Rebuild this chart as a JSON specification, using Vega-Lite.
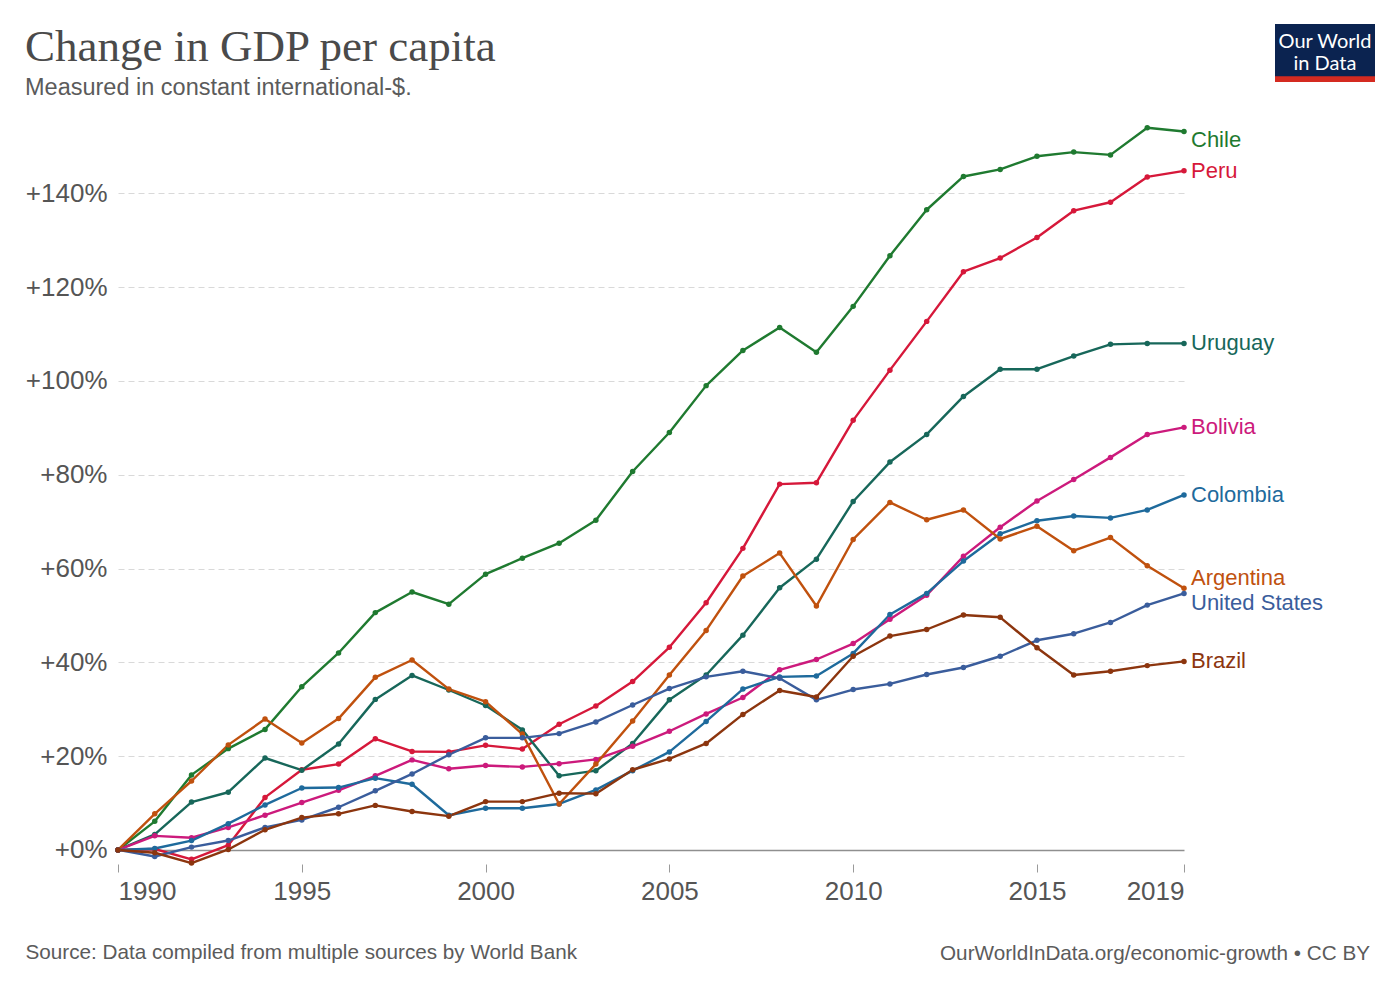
{
"$schema": "https://vega.github.io/schema/vega-lite/v6.json",
"background": "white",
"padding": {"left": 25, "top": 24, "right": 25, "bottom": 10},
"spacing": -6,
"align": "none",
"title": {"text": "OurWorldInData.org/economic-growth • CC BY", "orient": "bottom", "anchor": "end", "frame": "bounds", "offset": -18, "dx": -5, "font": "Liberation Sans", "fontSize": 20.7, "fontWeight": "normal", "color": "#5b5b5b"},
"config": {"view": {"stroke": null}},
"datasets": {
"gdp": [
{"country":"Chile","year":1990,"change":0},{"country":"Chile","year":1991,"change":6.1},{"country":"Chile","year":1992,"change":16.0},{"country":"Chile","year":1993,"change":21.6},{"country":"Chile","year":1994,"change":25.7},{"country":"Chile","year":1995,"change":34.8},{"country":"Chile","year":1996,"change":42.0},{"country":"Chile","year":1997,"change":50.6},{"country":"Chile","year":1998,"change":55.0},{"country":"Chile","year":1999,"change":52.4},{"country":"Chile","year":2000,"change":58.8},{"country":"Chile","year":2001,"change":62.2},{"country":"Chile","year":2002,"change":65.4},{"country":"Chile","year":2003,"change":70.3},{"country":"Chile","year":2004,"change":80.7},{"country":"Chile","year":2005,"change":89.0},{"country":"Chile","year":2006,"change":99.0},{"country":"Chile","year":2007,"change":106.5},{"country":"Chile","year":2008,"change":111.4},{"country":"Chile","year":2009,"change":106.1},{"country":"Chile","year":2010,"change":115.9},{"country":"Chile","year":2011,"change":126.7},{"country":"Chile","year":2012,"change":136.5},{"country":"Chile","year":2013,"change":143.6},{"country":"Chile","year":2014,"change":145.1},{"country":"Chile","year":2015,"change":147.9},{"country":"Chile","year":2016,"change":148.8},{"country":"Chile","year":2017,"change":148.2},{"country":"Chile","year":2018,"change":154.0},{"country":"Chile","year":2019,"change":153.2},
{"country":"Peru","year":1990,"change":0},{"country":"Peru","year":1991,"change":0.2},{"country":"Peru","year":1992,"change":-2.0},{"country":"Peru","year":1993,"change":1.0},{"country":"Peru","year":1994,"change":11.2},{"country":"Peru","year":1995,"change":17.1},{"country":"Peru","year":1996,"change":18.3},{"country":"Peru","year":1997,"change":23.7},{"country":"Peru","year":1998,"change":21.0},{"country":"Peru","year":1999,"change":20.9},{"country":"Peru","year":2000,"change":22.3},{"country":"Peru","year":2001,"change":21.5},{"country":"Peru","year":2002,"change":26.8},{"country":"Peru","year":2003,"change":30.7},{"country":"Peru","year":2004,"change":35.9},{"country":"Peru","year":2005,"change":43.2},{"country":"Peru","year":2006,"change":52.7},{"country":"Peru","year":2007,"change":64.3},{"country":"Peru","year":2008,"change":78.0},{"country":"Peru","year":2009,"change":78.3},{"country":"Peru","year":2010,"change":91.6},{"country":"Peru","year":2011,"change":102.3},{"country":"Peru","year":2012,"change":112.7},{"country":"Peru","year":2013,"change":123.3},{"country":"Peru","year":2014,"change":126.2},{"country":"Peru","year":2015,"change":130.6},{"country":"Peru","year":2016,"change":136.3},{"country":"Peru","year":2017,"change":138.1},{"country":"Peru","year":2018,"change":143.5},{"country":"Peru","year":2019,"change":144.8},
{"country":"Uruguay","year":1990,"change":0},{"country":"Uruguay","year":1991,"change":3.3},{"country":"Uruguay","year":1992,"change":10.2},{"country":"Uruguay","year":1993,"change":12.3},{"country":"Uruguay","year":1994,"change":19.6},{"country":"Uruguay","year":1995,"change":17.0},{"country":"Uruguay","year":1996,"change":22.6},{"country":"Uruguay","year":1997,"change":32.1},{"country":"Uruguay","year":1998,"change":37.2},{"country":"Uruguay","year":1999,"change":34.1},{"country":"Uruguay","year":2000,"change":30.8},{"country":"Uruguay","year":2001,"change":25.6},{"country":"Uruguay","year":2002,"change":15.8},{"country":"Uruguay","year":2003,"change":16.9},{"country":"Uruguay","year":2004,"change":22.7},{"country":"Uruguay","year":2005,"change":32.0},{"country":"Uruguay","year":2006,"change":37.3},{"country":"Uruguay","year":2007,"change":45.8},{"country":"Uruguay","year":2008,"change":55.9},{"country":"Uruguay","year":2009,"change":62.0},{"country":"Uruguay","year":2010,"change":74.3},{"country":"Uruguay","year":2011,"change":82.7},{"country":"Uruguay","year":2012,"change":88.6},{"country":"Uruguay","year":2013,"change":96.7},{"country":"Uruguay","year":2014,"change":102.5},{"country":"Uruguay","year":2015,"change":102.5},{"country":"Uruguay","year":2016,"change":105.3},{"country":"Uruguay","year":2017,"change":107.8},{"country":"Uruguay","year":2018,"change":108.0},{"country":"Uruguay","year":2019,"change":108.0},
{"country":"Bolivia","year":1990,"change":0},{"country":"Bolivia","year":1991,"change":3.0},{"country":"Bolivia","year":1992,"change":2.6},{"country":"Bolivia","year":1993,"change":4.8},{"country":"Bolivia","year":1994,"change":7.4},{"country":"Bolivia","year":1995,"change":10.1},{"country":"Bolivia","year":1996,"change":12.7},{"country":"Bolivia","year":1997,"change":15.8},{"country":"Bolivia","year":1998,"change":19.2},{"country":"Bolivia","year":1999,"change":17.3},{"country":"Bolivia","year":2000,"change":18.0},{"country":"Bolivia","year":2001,"change":17.7},{"country":"Bolivia","year":2002,"change":18.4},{"country":"Bolivia","year":2003,"change":19.3},{"country":"Bolivia","year":2004,"change":22.1},{"country":"Bolivia","year":2005,"change":25.3},{"country":"Bolivia","year":2006,"change":29.0},{"country":"Bolivia","year":2007,"change":32.5},{"country":"Bolivia","year":2008,"change":38.4},{"country":"Bolivia","year":2009,"change":40.6},{"country":"Bolivia","year":2010,"change":44.0},{"country":"Bolivia","year":2011,"change":49.2},{"country":"Bolivia","year":2012,"change":54.3},{"country":"Bolivia","year":2013,"change":62.6},{"country":"Bolivia","year":2014,"change":68.8},{"country":"Bolivia","year":2015,"change":74.4},{"country":"Bolivia","year":2016,"change":79.0},{"country":"Bolivia","year":2017,"change":83.7},{"country":"Bolivia","year":2018,"change":88.6},{"country":"Bolivia","year":2019,"change":90.1},
{"country":"Colombia","year":1990,"change":0},{"country":"Colombia","year":1991,"change":0.3},{"country":"Colombia","year":1992,"change":2.0},{"country":"Colombia","year":1993,"change":5.6},{"country":"Colombia","year":1994,"change":9.6},{"country":"Colombia","year":1995,"change":13.2},{"country":"Colombia","year":1996,"change":13.3},{"country":"Colombia","year":1997,"change":15.3},{"country":"Colombia","year":1998,"change":14.0},{"country":"Colombia","year":1999,"change":7.4},{"country":"Colombia","year":2000,"change":8.9},{"country":"Colombia","year":2001,"change":8.9},{"country":"Colombia","year":2002,"change":9.8},{"country":"Colombia","year":2003,"change":12.8},{"country":"Colombia","year":2004,"change":16.9},{"country":"Colombia","year":2005,"change":20.9},{"country":"Colombia","year":2006,"change":27.4},{"country":"Colombia","year":2007,"change":34.3},{"country":"Colombia","year":2008,"change":36.9},{"country":"Colombia","year":2009,"change":37.1},{"country":"Colombia","year":2010,"change":41.9},{"country":"Colombia","year":2011,"change":50.2},{"country":"Colombia","year":2012,"change":54.7},{"country":"Colombia","year":2013,"change":61.6},{"country":"Colombia","year":2014,"change":67.4},{"country":"Colombia","year":2015,"change":70.2},{"country":"Colombia","year":2016,"change":71.2},{"country":"Colombia","year":2017,"change":70.8},{"country":"Colombia","year":2018,"change":72.5},{"country":"Colombia","year":2019,"change":75.7},
{"country":"Argentina","year":1990,"change":0},{"country":"Argentina","year":1991,"change":7.7},{"country":"Argentina","year":1992,"change":14.7},{"country":"Argentina","year":1993,"change":22.4},{"country":"Argentina","year":1994,"change":27.9},{"country":"Argentina","year":1995,"change":22.8},{"country":"Argentina","year":1996,"change":28.0},{"country":"Argentina","year":1997,"change":36.8},{"country":"Argentina","year":1998,"change":40.5},{"country":"Argentina","year":1999,"change":34.3},{"country":"Argentina","year":2000,"change":31.6},{"country":"Argentina","year":2001,"change":24.7},{"country":"Argentina","year":2002,"change":9.8},{"country":"Argentina","year":2003,"change":18.3},{"country":"Argentina","year":2004,"change":27.5},{"country":"Argentina","year":2005,"change":37.3},{"country":"Argentina","year":2006,"change":46.8},{"country":"Argentina","year":2007,"change":58.4},{"country":"Argentina","year":2008,"change":63.3},{"country":"Argentina","year":2009,"change":52.0},{"country":"Argentina","year":2010,"change":66.2},{"country":"Argentina","year":2011,"change":74.1},{"country":"Argentina","year":2012,"change":70.4},{"country":"Argentina","year":2013,"change":72.5},{"country":"Argentina","year":2014,"change":66.3},{"country":"Argentina","year":2015,"change":69.0},{"country":"Argentina","year":2016,"change":63.8},{"country":"Argentina","year":2017,"change":66.6},{"country":"Argentina","year":2018,"change":60.6},{"country":"Argentina","year":2019,"change":55.8},
{"country":"United States","year":1990,"change":0},{"country":"United States","year":1991,"change":-1.4},{"country":"United States","year":1992,"change":0.6},{"country":"United States","year":1993,"change":2.0},{"country":"United States","year":1994,"change":4.8},{"country":"United States","year":1995,"change":6.4},{"country":"United States","year":1996,"change":9.1},{"country":"United States","year":1997,"change":12.6},{"country":"United States","year":1998,"change":16.2},{"country":"United States","year":1999,"change":20.3},{"country":"United States","year":2000,"change":23.9},{"country":"United States","year":2001,"change":23.9},{"country":"United States","year":2002,"change":24.8},{"country":"United States","year":2003,"change":27.3},{"country":"United States","year":2004,"change":30.9},{"country":"United States","year":2005,"change":34.4},{"country":"United States","year":2006,"change":36.9},{"country":"United States","year":2007,"change":38.1},{"country":"United States","year":2008,"change":36.6},{"country":"United States","year":2009,"change":32.0},{"country":"United States","year":2010,"change":34.2},{"country":"United States","year":2011,"change":35.4},{"country":"United States","year":2012,"change":37.4},{"country":"United States","year":2013,"change":38.9},{"country":"United States","year":2014,"change":41.3},{"country":"United States","year":2015,"change":44.7},{"country":"United States","year":2016,"change":46.1},{"country":"United States","year":2017,"change":48.5},{"country":"United States","year":2018,"change":52.2},{"country":"United States","year":2019,"change":54.7},
{"country":"Brazil","year":1990,"change":0},{"country":"Brazil","year":1991,"change":-0.6},{"country":"Brazil","year":1992,"change":-2.8},{"country":"Brazil","year":1993,"change":0.1},{"country":"Brazil","year":1994,"change":4.3},{"country":"Brazil","year":1995,"change":6.9},{"country":"Brazil","year":1996,"change":7.7},{"country":"Brazil","year":1997,"change":9.5},{"country":"Brazil","year":1998,"change":8.2},{"country":"Brazil","year":1999,"change":7.2},{"country":"Brazil","year":2000,"change":10.3},{"country":"Brazil","year":2001,"change":10.3},{"country":"Brazil","year":2002,"change":12.1},{"country":"Brazil","year":2003,"change":12.0},{"country":"Brazil","year":2004,"change":17.1},{"country":"Brazil","year":2005,"change":19.4},{"country":"Brazil","year":2006,"change":22.7},{"country":"Brazil","year":2007,"change":28.9},{"country":"Brazil","year":2008,"change":34.0},{"country":"Brazil","year":2009,"change":32.6},{"country":"Brazil","year":2010,"change":41.3},{"country":"Brazil","year":2011,"change":45.6},{"country":"Brazil","year":2012,"change":47.0},{"country":"Brazil","year":2013,"change":50.1},{"country":"Brazil","year":2014,"change":49.6},{"country":"Brazil","year":2015,"change":43.1},{"country":"Brazil","year":2016,"change":37.3},{"country":"Brazil","year":2017,"change":38.1},{"country":"Brazil","year":2018,"change":39.3},{"country":"Brazil","year":2019,"change":40.2}
],
"logo": [{"line": "Our World", "row": 1}, {"line": "in Data", "row": 2}],
"strip": [{"part": "red band"}]
},
"vconcat": [
{
"align": "none",
"spacing": 0,
"hconcat": [
{
"width": 1157,
"height": 1,
"data": {"values": []},
"mark": "point",
"title": {"text": "Change in GDP per capita", "orient": "bottom", "anchor": "start", "frame": "bounds", "offset": 0, "dx": -93, "font": "Liberation Serif", "fontSize": 45, "fontWeight": "normal", "color": "#4a4a4a"}
},
{
"width": 100,
"height": 58,
"view": {"fill": "#0b2350", "stroke": null},
"layer": [
{"data": {"name": "logo"},
 "mark": {"type": "text", "color": "white", "font": "Lato", "fontSize": 20, "baseline": "middle"},
 "encoding": {
  "x": {"datum": 0.5, "type": "quantitative", "scale": {"domain": [0, 1]}, "axis": null},
  "y": {"field": "row", "type": "ordinal", "axis": null, "scale": {"type": "point", "padding": 0.85, "align": 0.5}},
  "text": {"field": "line"}}},
{"data": {"name": "strip"},
 "mark": {"type": "rect", "color": "#d42a20"},
 "encoding": {
  "x": {"datum": 0, "type": "quantitative", "scale": {"domain": [0, 1]}, "axis": null},
  "x2": {"datum": 1},
  "y": {"datum": 0, "type": "quantitative", "scale": {"domain": [0, 10]}, "axis": null},
  "y2": {"datum": 1}}}
],
"resolve": {"scale": {"y": "independent"}}
}
]
},
{
"width": 1066,
"height": 741,
"title": {"text": "Measured in constant international-$.", "anchor": "start", "frame": "bounds", "font": "Liberation Sans", "fontSize": 23.5, "fontWeight": "normal", "color": "#5b5b5b", "offset": 23.5},
"data": {"name": "gdp"},
"encoding": {
"x": {"field": "year", "type": "quantitative", "scale": {"domain": [1990, 2019], "nice": false, "zero": false},
 "axis": {"values": [1990, 1995, 2000, 2005, 2010, 2015, 2019], "format": "d", "labelFlush": true, "labelFont": "Liberation Sans", "labelFontSize": 26, "labelColor": "#555555", "labelPadding": 6, "domain": false, "grid": false, "ticks": true, "tickColor": "#9a9a9a", "tickSize": 8,
 "title": "Source: Data compiled from multiple sources by World Bank", "titleX": -93, "titleY": 88, "titleAlign": "left", "titleBaseline": "middle", "titleFont": "Liberation Sans", "titleFontSize": 20.7, "titleFontWeight": "normal", "titleColor": "#5b5b5b"}},
"y": {"field": "change", "type": "quantitative", "scale": {"domain": [-3, 155], "nice": false, "zero": false},
 "axis": {"values": [0, 20, 40, 60, 80, 100, 120, 140], "labelExpr": "'+' + datum.value + '%'", "title": null, "domain": false, "ticks": false, "grid": true,
 "gridColor": {"condition": {"test": "datum.value === 0", "value": "#8f8f8f"}, "value": "#d9d9d9"},
 "gridDash": {"condition": {"test": "datum.value === 0", "value": []}, "value": [6, 4]},
 "gridWidth": {"condition": {"test": "datum.value === 0", "value": 1.4}, "value": 1.2},
 "labelFont": "Liberation Sans", "labelFontSize": 26, "labelColor": "#555555", "labelPadding": 11}},
"color": {"field": "country", "type": "nominal", "legend": null,
 "scale": {"domain": ["Chile", "Peru", "Uruguay", "Bolivia", "Colombia", "Argentina", "United States", "Brazil"],
 "range": ["#1f7a30", "#d6183a", "#17675a", "#cc1a7c", "#1e6a9c", "#c0510e", "#3a5d9c", "#8c350e"]}}
},
"layer": [
{"mark": {"type": "line", "strokeWidth": 2.4, "strokeJoin": "round", "strokeCap": "round"}, "encoding": {"detail": {"field": "country"}}},
{"mark": {"type": "circle", "size": 30, "opacity": 1}},
{"transform": [{"filter": "datum.year === 2019 && datum.country !== 'Chile' && datum.country !== 'Argentina' && datum.country !== 'United States'"}],
 "mark": {"type": "text", "align": "left", "baseline": "middle", "dx": 7, "font": "Liberation Sans", "fontSize": 22}, "encoding": {"text": {"field": "country"}}},
{"transform": [{"filter": "datum.year === 2019 && datum.country === 'Chile'"}],
 "mark": {"type": "text", "align": "left", "baseline": "middle", "dx": 7, "dy": 9, "font": "Liberation Sans", "fontSize": 22}, "encoding": {"text": {"field": "country"}}},
{"transform": [{"filter": "datum.year === 2019 && datum.country === 'Argentina'"}],
 "mark": {"type": "text", "align": "left", "baseline": "middle", "dx": 7, "dy": -10, "font": "Liberation Sans", "fontSize": 22}, "encoding": {"text": {"field": "country"}}},
{"transform": [{"filter": "datum.year === 2019 && datum.country === 'United States'"}],
 "mark": {"type": "text", "align": "left", "baseline": "middle", "dx": 7, "dy": 10, "font": "Liberation Sans", "fontSize": 22}, "encoding": {"text": {"field": "country"}}}
]
}
]
}
